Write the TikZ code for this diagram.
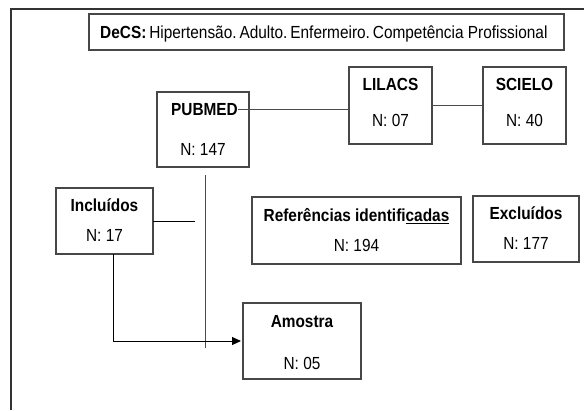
\documentclass[tikz,border=0pt]{standalone}
\usepackage{fontspec}
\setmainfont{Liberation Sans}[FakeStretch=0.88]
\usetikzlibrary{arrows.meta}
\begin{document}
\begin{tikzpicture}[x=1pt,y=-1pt,
  box/.style={draw=black!72,line width=1.1pt,inner sep=0pt,outer sep=0pt},
  txt/.style={anchor=base,inner sep=0pt,font=\fontsize{17.5}{20}\selectfont},
  btxt/.style={txt,font=\fontsize{17.5}{20}\selectfont\bfseries},
  conn/.style={draw=black!70,line width=1pt},
  arr/.style={draw=black,line width=1pt,-{Triangle[length=9pt,width=8pt]}}]
\useasboundingbox (0,0) rectangle (584,410);
% outer frame
\draw[draw=black!80,line width=1.2pt] (11,410) -- (11,9) -- (584,9);
% boxes
\node[box,minimum width=475pt,minimum height=36pt] (decs) at (326.5,32) {};
\node[box,minimum width=92pt,minimum height=75pt] (pubmed) at (203,129.5) {};
\node[box,minimum width=83pt,minimum height=77pt] (lilacs) at (390.5,105.5) {};
\node[box,minimum width=83pt,minimum height=77pt] (scielo) at (524.5,105.5) {};
\node[box,minimum width=97pt,minimum height=66pt] (incl) at (104.5,221) {};
\node[box,minimum width=209pt,minimum height=67pt] (refs) at (356.5,230.5) {};
\node[box,minimum width=106pt,minimum height=66pt] (excl) at (526,229) {};
\node[box,minimum width=118pt,minimum height=76pt] (amostra) at (302,341) {};
% texts
\node[txt,anchor=base west] (decst) at (100,38.5) {\textbf{DeCS:}\,Hipertensão.\,Adulto.\,Enfermeiro.\,Competência Profissional};
\node[btxt] (pubt) at (204.5,115.2) {PUBMED};
\node[txt] (pubn) at (203,155.2) {N: 147};
\node[btxt] (lilt) at (390.5,90.5) {LILACS};
\node[txt] (liln) at (390.5,126.2) {N: 07};
\node[btxt] (scit) at (524.5,90.5) {SCIELO};
\node[txt] (scin) at (524.5,126.2) {N: 40};
\node[btxt] (inclt) at (104.5,211.2) {Incluídos};
\node[txt] (incln) at (104.5,241.2) {N: 17};
\node[btxt] (refst) at (356.5,221.2) {Referências identifi\underline{cadas}};
\node[txt] (refsn) at (356.5,251.2) {N: 194};
\node[btxt] (exclt) at (526,219.5) {Excluídos};
\node[txt] (excln) at (526,249.2) {N: 177};
\node[btxt] (amt) at (302,327.2) {Amostra};
\node[txt] (amn) at (302,369) {N: 05};
% connectors
\coordinate (inclend) at (195,221);
\coordinate (vtop) at (205,175);
\coordinate (vbot) at (205,348);
\draw[conn] (pubt.east) -- (pubt.east -| lilacs.west);
\draw[conn] (lilacs.east) -- (scielo.west);
\draw[conn,draw=black] (incl.east) -- (inclend);
\draw[conn] (vtop) -- (vbot);
\draw[arr] ([xshift=8.5pt]incl.south) |- ([xshift=-2pt]amostra.west);
\end{tikzpicture}
\end{document}
